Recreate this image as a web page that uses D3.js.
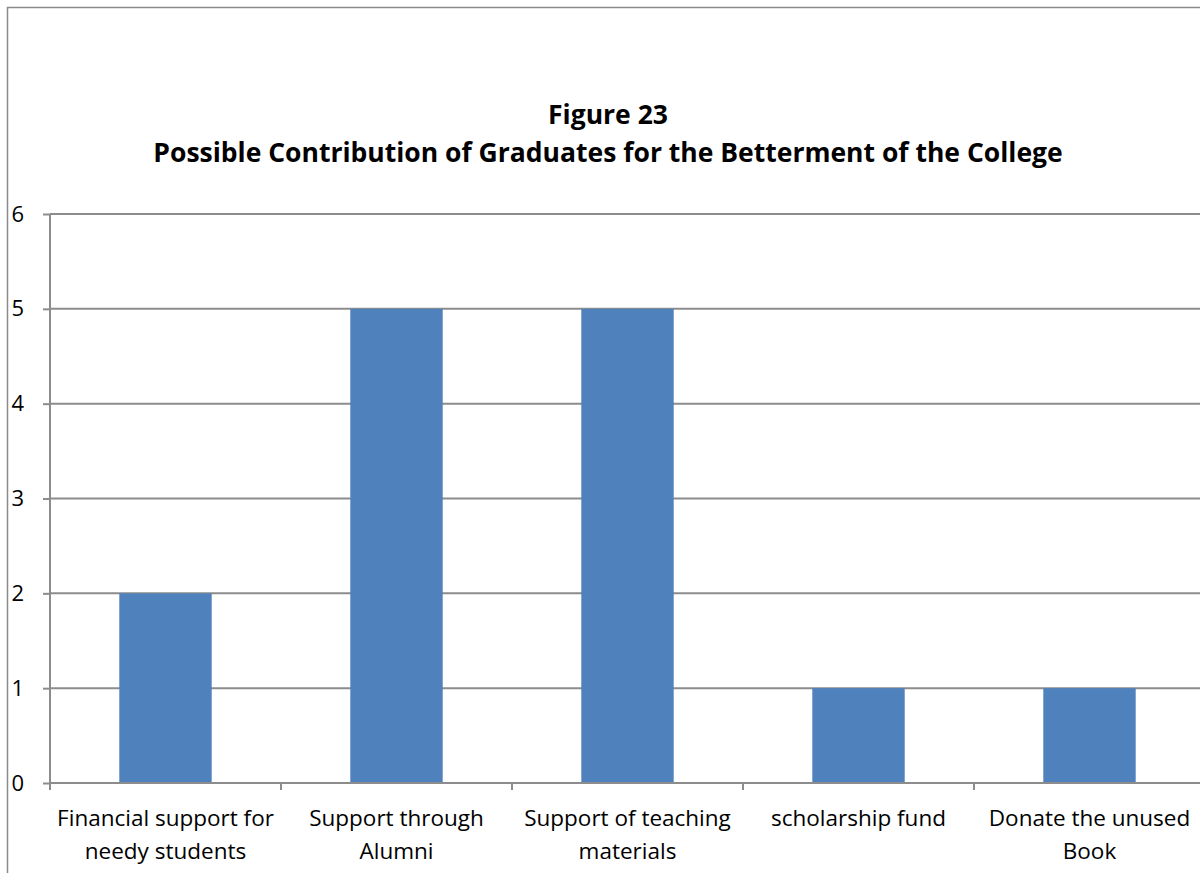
<!DOCTYPE html>
<html>
<head>
<meta charset="utf-8">
<script src="https://cdn.jsdelivr.net/npm/d3@7"></script>
<style>
html,body{margin:0;padding:0;background:#fff;}
svg{display:block;font-family:"Open Sans","Noto Sans",sans-serif;}
</style>
</head>
<body>
<svg id="chart" width="1200" height="873"></svg>
<script>
const titleLines = ["Figure 23", "Possible Contribution of Graduates for the Betterment of the College"];
const categories = ["Financial support for\nneedy students", "Support through\nAlumni", "Support of teaching\nmaterials", "scholarship fund", "Donate the unused\nBook"];
const values = [2, 5, 5, 1, 1];
const yTicks = [0, 1, 2, 3, 4, 5, 6];

const svg = d3.select("#chart");
const W = 1200, H = 873;
const mLeft = 50, mRight = 1205, mTop = 214, mBottom = 783;
const gridColor = "#8c8c8c";

// outer border
svg.append("rect").attr("x", 7.5).attr("y", 7.5).attr("width", 1300).attr("height", 1000)
  .attr("fill", "none").attr("stroke", "#8a8a8a").attr("stroke-width", 1.5);

const x = d3.scaleBand().domain(categories).range([mLeft, mRight]).paddingInner(0.6).paddingOuter(0.3);
const xb = d3.scaleBand().domain(categories).range([mLeft, mRight]).padding(0);
const y = d3.scaleLinear().domain([0, 6]).range([mBottom, mTop]);

// gridlines
svg.append("g").selectAll("line").data(yTicks.filter(d => d > 0)).join("line")
  .attr("x1", mLeft).attr("x2", W).attr("y1", d => y(d)).attr("y2", d => y(d))
  .attr("stroke", gridColor).attr("stroke-width", 2);

// bars
svg.append("g").selectAll("rect").data(values).join("rect")
  .attr("x", (d, i) => x(categories[i]))
  .attr("width", x.bandwidth())
  .attr("y", d => y(d))
  .attr("height", d => y(0) - y(d))
  .attr("fill", "#4f81bd");

// y axis
const yAxis = svg.append("g").attr("transform", `translate(${mLeft},0)`)
  .call(d3.axisLeft(y).tickValues(yTicks).tickSize(7).tickPadding(19).tickFormat(d3.format("d")));
yAxis.select(".domain").attr("stroke", gridColor).attr("stroke-width", 2).attr("d", `M0,${mTop}V${mBottom + 7}`);
yAxis.selectAll(".tick line").attr("stroke", gridColor).attr("stroke-width", 2);
yAxis.selectAll(".tick text").attr("font-size", 22).attr("fill", "#000")
  .attr("font-family", '"Open Sans","Noto Sans",sans-serif');

// x axis baseline
svg.append("line").attr("x1", mLeft).attr("x2", W).attr("y1", mBottom).attr("y2", mBottom)
  .attr("stroke", gridColor).attr("stroke-width", 2);
// x ticks at category boundaries
svg.append("g").selectAll("line").data(categories.slice(1)).join("line")
  .attr("x1", d => xb(d)).attr("x2", d => xb(d)).attr("y1", mBottom).attr("y2", mBottom + 7)
  .attr("stroke", gridColor).attr("stroke-width", 2);

// category labels
const lab = svg.append("g").selectAll("text").data(categories).join("text")
  .attr("text-anchor", "middle").attr("font-size", 22.5).attr("fill", "#000")
  .attr("transform", d => `translate(${xb(d) + xb.bandwidth() / 2},0)`);
lab.each(function(d) {
  d.split("\n").forEach((ln, k) => {
    d3.select(this).append("tspan").attr("x", 0).attr("y", 826 + k * 33).text(ln);
  });
});

// title
svg.append("g").selectAll("text").data(titleLines).join("text")
  .attr("x", 608).attr("y", (d, i) => 124 + i * 38)
  .attr("text-anchor", "middle").attr("font-weight", "bold").attr("font-size", 26.5)
  .attr("fill", "#000").text(d => d);
</script>
</body>
</html>
